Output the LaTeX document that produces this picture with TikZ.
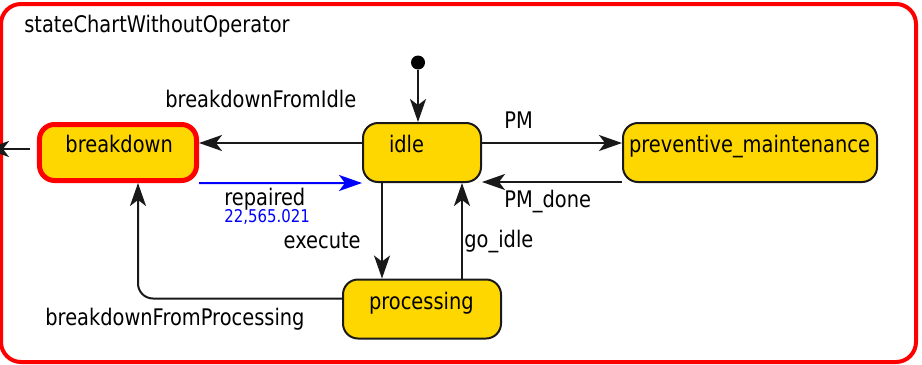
\documentclass[tikz,border=0pt]{standalone}
\usepackage{fontspec}
\setmainfont{DejaVu Sans}[FakeStretch=0.85]
\usetikzlibrary{arrows.meta, positioning, calc}
\definecolor{stategold}{RGB}{255,215,0}
\definecolor{pureblue}{RGB}{0,0,255}

\begin{document}
\begin{tikzpicture}[
    x=0.2mm, y=-0.2mm,
    every node/.style={font=\fontsize{13}{15}\selectfont},
    state/.style={rectangle, rounded corners=3mm, draw=black!90, line width=0.4mm, fill=stategold, minimum height=11.8mm, text height=3.4mm, text depth=3.4mm, inner ysep=0pt, inner xsep=5.2mm, align=left},
    alarm/.style={state, draw=red, line width=1mm, minimum height=11.2mm},
    chart/.style={draw=red, line width=0.8mm, rounded corners=4mm},
    arrow/.style={-{Stealth[length=4.6mm, width=3.2mm, inset=1.2mm]}, line width=0.4mm, draw=black!90},
    trans/.style={anchor=base west, inner sep=0pt},
    value/.style={trans, text=pureblue, font=\fontsize{10}{12}\selectfont}
]
\useasboundingbox (0,0) rectangle (922,364);

% Chart frame
\draw[chart] (1,4) rectangle (916,362);
\node[trans] (title) at (24,32) {stateChartWithoutOperator};

% States
\node[alarm, text width=21mm] (breakdown) at (118,152.5) {breakdown};
\node[state, text width=13.2mm] (idle) at (422,152.5) {idle};
\node[state, text width=48.4mm, inner xsep=1.2mm] (pm) at (750,152.5) {preventive\_maintenance};
\node[state, text width=21.2mm] (processing) at (422,309) {processing};

% Initial point
\node[circle, fill=black, minimum size=2.8mm, inner sep=0pt] (init) at (418,62.5) {};
\coordinate (exit) at (-14,149);

% Transitions
\draw[arrow] (init) -- (init |- idle.north);
\draw[arrow] ($(idle.west)+(0,-9.5)$) -- ($(breakdown.east)+(0,-9.5)$);
\draw[arrow] ($(idle.east)+(0,-9.5)$) -- ($(pm.west)+(0,-9.5)$);
\draw[arrow] ([yshift=0.2mm]pm.south west) -- ([yshift=0.2mm]idle.south east);
\draw[arrow, draw=pureblue] (breakdown.south east) -- (idle.south west);
\draw[arrow] ($(idle.south)+(-40,0)$) -- ($(processing.north)+(-40,0)$);
\draw[arrow] ($(processing.north)+(40,0)$) -- ($(idle.south)+(40,0)$);
\draw[arrow, rounded corners=3mm] ($(processing.west)+(0,-10.5)$) -| ($(breakdown.south)+(20,0)$);
\draw[arrow] ($(breakdown.west)+(-7,-3.5)$) -- (exit);

% Transition labels
\node[trans] (lblIdle) at (165,107) {breakdownFromIdle};
\node[trans] (lblPM) at (504,128) {PM};
\node[trans] (lblDone) at (504,207) {PM\_done};
\node[trans] (lblRepaired) at (224,205) {repaired};
\node[value] (lblTime) at (224,222) {22,565.021};
\node[trans, anchor=base east] (lblExec) at (361,248) {execute};
\node[trans] (lblGo) at (464,247) {go\_idle};
\node[trans] (lblProc) at (45,325) {breakdownFromProcessing};

\end{tikzpicture}
\end{document}
